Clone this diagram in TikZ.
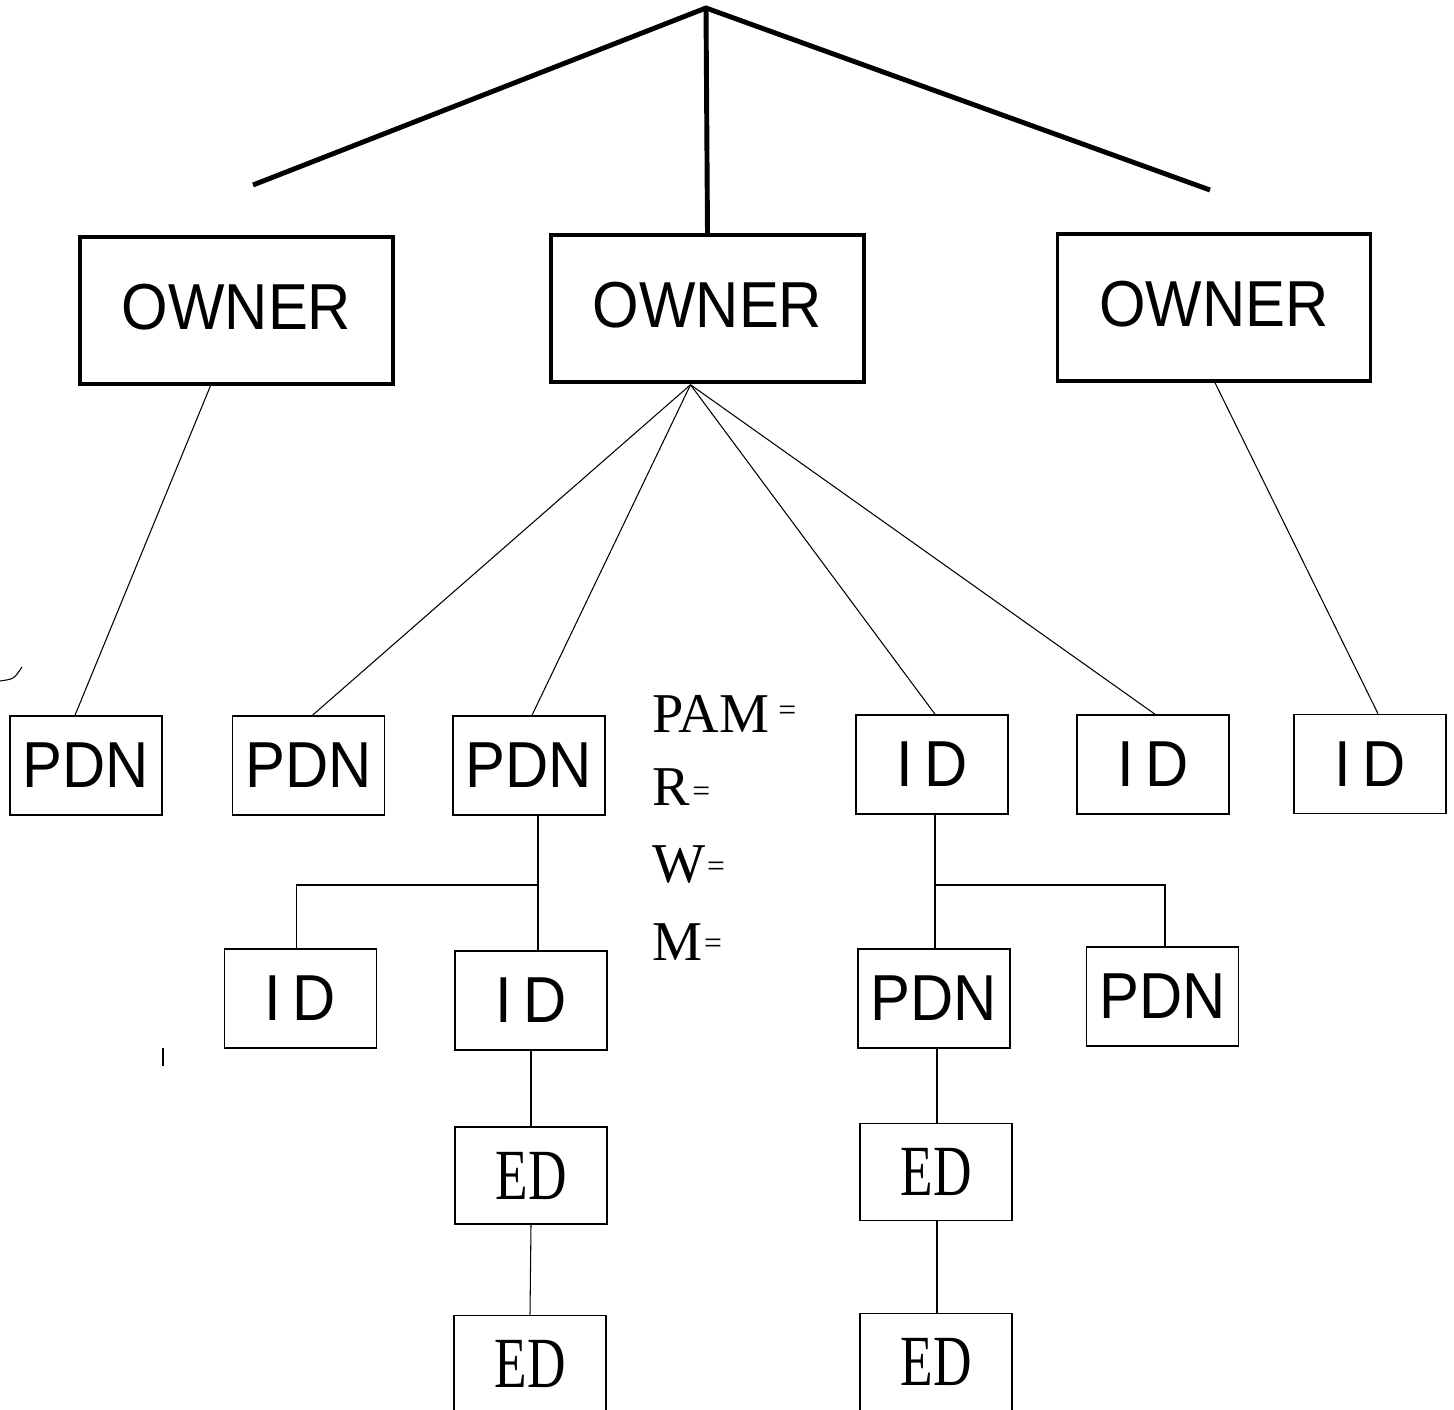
\documentclass[tikz,border=0pt]{standalone}
\usepackage{fontspec}
\setmainfont{Liberation Serif}
\newfontfamily\boxfont{Liberation Sans}
\newfontfamily\edfont{Liberation Serif}
\usetikzlibrary{calc}
\newcommand{\bx}[1]{\scalebox{0.92}[1]{\boxfont\fontsize{37}{37}\selectfont #1}}
\newcommand{\edtxt}[1]{\scalebox{0.74}[1]{\edfont\fontsize{41}{41}\selectfont #1}}
\newcommand{\eqs}{{\fontsize{18}{18}\selectfont=}}
\begin{document}
\begin{tikzpicture}[x=0.02cm,y=-0.02cm,
  ownerbox/.style={draw, line width=2pt, minimum width=6.26cm, minimum height=2.94cm, inner sep=0pt},
  smallbox/.style={draw, line width=0.9pt, minimum width=3.04cm, minimum height=1.98cm, inner sep=0pt},
  edbox/.style={draw, line width=0.9pt, minimum width=3.04cm, minimum height=1.94cm, inner sep=0pt},
  heavy/.style={line width=2.8pt},
  link/.style={line width=0.6pt},
  legend/.style={anchor=base west, inner sep=0pt, font=\fontsize{32}{32}\selectfont}]
\useasboundingbox (0,0) rectangle (1454,1410);

% OWNER boxes
\node[ownerbox] (o1) at (236.5,310.5) {\raisebox{4.5pt}{\bx{OWNER}}};
\node[ownerbox] (o2) at (707.5,308.5) {\raisebox{4.5pt}{\bx{OWNER}}};
\node[ownerbox] (o3) at (1214,307.5) {\raisebox{4.5pt}{\bx{OWNER}}};

% top fan
\coordinate (apex) at (706,8);
\coordinate (lend) at (253,185);
\coordinate (rend) at (1210,190);
\draw[heavy, line join=miter] (lend) -- (apex) -- (rend);
\draw[heavy] (apex) -- (o2.north);

% second row
\node[smallbox] (p1) at (86,765.5) {\bx{PDN}};
\node[smallbox] (p2) at (308.5,765.5) {\bx{PDN}};
\node[smallbox] (p3) at (529,765.5) {\bx{PDN}};
\node[smallbox] (i1) at (932,764.5) {\bx{I\kern7pt D}};
\node[smallbox] (i2) at (1153,764.5) {\bx{I\kern7pt D}};
\node[smallbox] (i3) at (1370,764) {\bx{I\kern7pt D}};

% third row
\node[smallbox] (i4) at (300.5,998.5) {\bx{I\kern7pt D}};
\node[smallbox] (i5) at (531,1000.5) {\bx{I\kern7pt D}};
\node[smallbox] (p4) at (934,998.5) {\bx{PDN}};
\node[smallbox] (p5) at (1162.5,996.5) {\bx{PDN}};

% ED boxes
\node[edbox] (e1) at (531,1175.5) {\edtxt{ED}};
\node[edbox] (e2) at (530,1364) {\edtxt{ED}};
\node[edbox] (e3) at (936,1172) {\edtxt{ED}};
\node[edbox] (e4) at (936,1362) {\edtxt{ED}};

% connectors from owners
\coordinate (fan) at ($(o2.south)+(-17,1)$);
\draw[link] ($(o1.south)+(-26,0)$) -- ($(p1.north)+(-11,0)$);
\draw[link] (fan) -- ($(p2.north)+(4,0)$);
\draw[link] (fan) -- ($(p3.north)+(3,0)$);
\draw[link] (fan) -- ($(i1.north)+(3,0)$);
\draw[link] (fan) -- ($(i2.north)+(2,0)$);
\draw[link] ($(o3.south)+(1,0)$) -- ($(i3.north)+(8,0)$);

% PDN subtree
\coordinate (j1) at (538,885);
\draw[link] ($(p3.south)+(9,0)$) -- ($(i5.north)+(7,0)$);
\draw[link] (j1) -| ($(i4.north)+(-4,0)$);
\draw[link] (i5.south) -- (e1.north);
\draw[link] (e1.south) -- (e2.north);

% ID subtree
\coordinate (j2) at (935,885);
\draw[link] ($(i1.south)+(3,0)$) -- ($(p4.north)+(1,0)$);
\draw[link] (j2) -| ($(p5.north)+(2.5,0)$);
\draw[link] ($(p4.south)+(3,0)$) -- ($(e3.north)+(1,0)$);
\draw[link] ($(e3.south)+(1,0)$) -- ($(e4.north)+(1,0)$);

% legend
\node[legend] (pam) at (652,732) {PAM\,\raisebox{0.2em}{\eqs}};
\node[legend] (r) at (652,805) {R\kern1.5pt\raisebox{0.06em}{\eqs}};
\node[legend] (w) at (652,882) {W\kern1pt\raisebox{0.1em}{\eqs}};
\node[legend] (m) at (652,960) {M\kern1pt\raisebox{0.12em}{\eqs}};

% stray marks
\draw[link] (0,681) .. controls (14,679) .. (22,667);
\draw[link] (163,1048) -- (163,1066);
\end{tikzpicture}
\end{document}
